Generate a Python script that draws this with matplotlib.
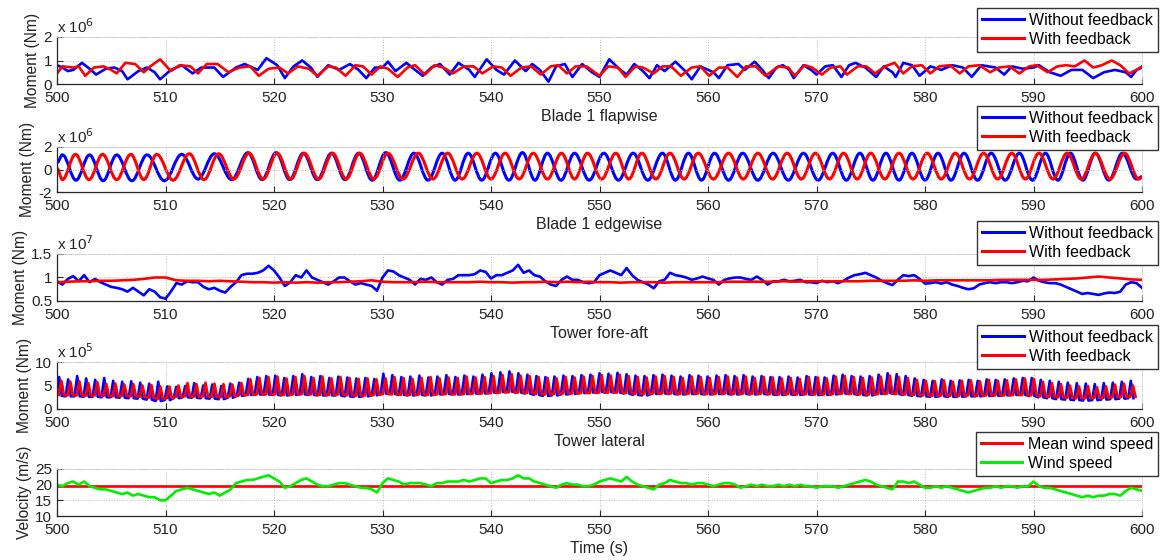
import numpy as np
import matplotlib
matplotlib.use('Agg')
import matplotlib.pyplot as plt
from matplotlib.lines import Line2D
from matplotlib.path import Path
from matplotlib.patches import PathPatch

plt.rcParams['font.family'] = ['Liberation Sans', 'DejaVu Sans']

# ---------------- data ----------------
# Blade 1 flapwise (x 1e6 Nm)
flap_blue_t = [500, 500.5, 501, 501.5, 502.3, 503, 503.6, 504.5, 505.3, 506, 506.5, 507.5, 508.3, 509, 509.5,
               510.5, 511.5, 512.5, 513.3, 514.5, 515.3, 516.5, 517.3, 518.5, 519.3, 520.3, 521.0, 521.8, 522.6,
               523.4, 524.0, 525, 526, 527, 527.8, 528.5, 529.3, 530, 530.5, 531.2, 532.2, 533, 533.7, 534.5,
               535.3, 536.2, 537, 538, 538.5, 539.6, 540.5, 541.2, 542.2, 543.2, 543.8, 544.5, 545.3, 546, 546.8,
               547.5, 548.4, 549.3, 550, 550.9, 551.8, 552.5, 553.2, 554, 554.6, 555.3, 556, 557, 557.9, 558.5,
               559.3, 560.5, 561, 561.8, 562.8, 563.4, 564.3, 565, 565.6, 566.3, 566.9, 567.5, 567.9, 568.8,
               569.5, 570, 570.8, 571.5, 572.3, 573, 573.6, 574.5, 575.5, 576.2, 577, 577.3, 578, 578.8, 579.5,
               580.5, 581.5, 582.5, 583.5, 584.3, 585.2, 586.5, 587.3, 588, 589, 590, 590.5, 591.5, 592.5, 593.5,
               594.5, 595.5, 596.5, 597.5, 598.5, 599, 599.5, 600]
flap_blue_v = [0.8, 0.7, 0.55, 0.6, 0.9, 0.65, 0.4, 0.65, 0.7, 0.55, 0.2, 0.55, 0.7, 0.5, 0.2,
               0.6, 0.8, 0.45, 0.7, 0.7, 0.3, 0.7, 0.85, 0.6, 1.1, 0.8, 0.25, 0.75, 1.0,
               0.7, 0.3, 0.8, 0.6, 0.85, 0.6, 0.25, 0.7, 0.7, 0.95, 0.55, 0.9, 0.6, 0.35, 0.7,
               0.85, 0.4, 0.9, 0.6, 0.3, 1.05, 0.6, 0.4, 1.0, 0.55, 0.85, 0.6, 0.1, 0.75, 0.85,
               0.3, 0.85, 0.5, 0.3, 1.05, 0.65, 0.4, 0.85, 0.55, 0.25, 0.8, 0.55, 0.95, 0.55, 0.2,
               0.75, 0.5, 0.25, 0.8, 0.85, 0.6, 0.95, 0.6, 0.25, 0.7, 0.8, 0.6, 0.25, 0.8,
               0.6, 0.4, 0.75, 0.8, 0.3, 0.8, 0.9, 0.7, 0.3, 0.75, 0.5, 0.3, 0.9, 0.8, 0.35,
               0.75, 0.6, 0.8, 0.7, 0.3, 0.8, 0.7, 0.4, 0.75, 0.65, 0.7, 0.8, 0.5, 0.35, 0.6,
               0.6, 0.25, 0.5, 0.6, 0.5, 0.3, 0.6, 0.7]
flap_red_t = [500, 500.5, 501.5, 502, 502.6, 503.4, 504.3, 505, 505.5, 506.3, 507.2, 508, 508.6, 509.5, 510.5,
              511.3, 512.3, 513, 513.8, 514.8, 515.8, 516.8, 517.8, 518.6, 519.5, 520.5, 521.3, 522.2, 523.2,
              524, 525, 525.7, 526.6, 527.5, 528.2, 529, 529.8, 530.5, 531.4, 532.3, 533, 533.9, 534.8, 535.6,
              536.5, 537.5, 538.4, 539.2, 540.2, 541, 541.8, 542.8, 543.7, 544.6, 545.5, 546.2, 547, 547.8,
              548.8, 550, 550.8, 551.7, 552.4, 553.3, 554, 555, 555.8, 556.6, 557.5, 558.5, 559.3, 560.1, 561,
              561.8, 562.7, 563.5, 564.4, 565.3, 566.5, 567.4, 568, 568.9, 569.6, 570.5, 571.3, 572.2, 572.8,
              573.8, 574.6, 575.4, 576.3, 577.2, 578, 578.8, 579.7, 580.5, 581.3, 582.3, 583.2, 584, 585, 586,
              586.8, 587.8, 588.7, 589.6, 590.3, 591.3, 592.2, 593, 593.8, 594.7, 595.5, 596.3, 597.2, 598,
              598.8, 599.5, 600]
flap_red_v = [0.45, 0.75, 0.7, 0.75, 0.35, 0.7, 0.75, 0.6, 0.45, 0.9, 0.85, 0.5, 0.75, 1.05, 0.55,
              0.8, 0.75, 0.45, 0.85, 0.85, 0.5, 0.7, 0.75, 0.35, 0.65, 0.7, 0.45, 0.75, 0.65,
              0.35, 0.75, 0.7, 0.35, 0.8, 0.75, 0.4, 0.75, 0.65, 0.3, 0.7, 0.8, 0.4, 0.8, 0.7,
              0.45, 0.75, 0.75, 0.45, 0.75, 0.7, 0.35, 0.7, 0.75, 0.4, 0.75, 0.8, 0.45, 0.75,
              0.75, 0.35, 0.75, 0.7, 0.3, 0.75, 0.7, 0.45, 0.75, 0.75, 0.35, 0.7, 0.75, 0.35, 0.7,
              0.7, 0.3, 0.75, 0.75, 0.35, 0.75, 0.7, 0.35, 0.8, 0.7, 0.4, 0.7, 0.75, 0.4,
              0.75, 0.75, 0.45, 0.75, 0.9, 0.45, 0.75, 0.8, 0.45, 0.75, 0.8, 0.45, 0.75, 0.8, 0.5,
              0.7, 0.75, 0.45, 0.75, 0.8, 0.5, 0.75, 0.8, 0.75, 1.0, 0.7, 0.8, 1.0, 0.8,
              0.45, 0.6, 0.75]

# Blade 1 edgewise (x 1e6 Nm): turning points (peaks / troughs)
edge_blue_t = [500, 500.5, 501.75, 503.0, 504.25, 505.5, 506.9, 508.3, 509.9, 511.5, 513.0, 514.5, 516.1,
               517.6, 518.9, 520.2, 521.45, 522.7, 524.0, 525.3, 526.55, 527.8, 529.05, 530.3, 531.6,
               532.9, 534.2, 535.5, 536.7, 537.9, 539.15, 540.4, 541.65, 542.9, 544.05, 545.2, 546.45,
               547.7, 549.05, 550.4, 551.75, 553.1, 554.45, 555.8, 557.0, 558.2, 559.4, 560.6, 561.9,
               563.2, 564.6, 566.0, 567.4, 568.8, 570.15, 571.5, 572.75, 574.0, 575.2, 576.4, 577.6,
               578.8, 580.0, 581.2, 582.4, 583.6, 584.85, 586.1, 587.4, 588.7, 589.9, 591.1, 592.25,
               593.4, 594.55, 595.7, 596.95, 598.2, 599.5, 600]
edge_blue_v = [0.6, 1.3, -0.95, 1.3, -1.0, 1.3, -1.0, 1.3, -1.0, 1.35, -0.85, 1.4, -0.9,
               1.5, -0.9, 1.5, -0.9, 1.45, -0.9, 1.45, -0.9, 1.45, -0.95, 1.5, -0.95,
               1.45, -0.95, 1.45, -0.95, 1.45, -0.95, 1.45, -0.95, 1.5, -0.95, 1.45, -0.95,
               1.45, -0.95, 1.45, -0.95, 1.45, -0.95, 1.45, -0.95, 1.45, -0.95, 1.45, -0.95,
               1.45, -0.95, 1.45, -0.95, 1.45, -0.95, 1.45, -0.95, 1.45, -0.95, 1.45, -0.95,
               1.45, -0.95, 1.45, -0.95, 1.45, -0.95, 1.45, -0.95, 1.45, -0.95, 1.45, -0.95,
               1.45, -0.95, 1.45, -0.95, 1.45, -0.85, -0.65]
edge_red_t = [500, 500.5, 501.7, 502.95, 504.2, 505.5, 506.8, 508.0, 509.2, 510.7, 512.2, 513.55, 514.9,
              516.3, 517.7, 519.0, 520.3, 521.55, 522.8, 524.1, 525.4, 526.65, 527.9, 529.2, 530.5,
              531.9, 533.3, 534.65, 536.0, 537.35, 538.7, 540.0, 541.3, 542.6, 543.9, 545.2, 546.5,
              547.7, 548.9, 550.2, 551.5, 552.7, 553.9, 555.2, 556.5, 557.8, 559.1, 560.5, 561.9,
              563.25, 564.6, 565.95, 567.3, 568.6, 569.9, 571.2, 572.5, 573.75, 575.0, 576.3, 577.6,
              578.9, 580.2, 581.5, 582.8, 584.1, 585.4, 586.7, 588.0, 589.25, 590.5, 591.8, 593.1,
              594.4, 595.7, 597.05, 598.4, 599.7, 600]
edge_red_v = [0.1, -0.9, 1.35, -0.9, 1.35, -0.9, 1.35, -0.9, 1.35, -0.95, 1.4, -0.9, 1.4,
              -0.85, 1.45, -0.85, 1.45, -0.85, 1.45, -0.85, 1.45, -0.85, 1.45, -0.85, 1.45,
              -0.85, 1.45, -0.85, 1.45, -0.85, 1.45, -0.85, 1.45, -0.85, 1.45, -0.85, 1.45,
              -0.85, 1.45, -0.85, 1.45, -0.85, 1.45, -0.85, 1.45, -0.85, 1.45, -0.85, 1.45,
              -0.85, 1.45, -0.85, 1.45, -0.85, 1.45, -0.85, 1.45, -0.85, 1.45, -0.85, 1.45,
              -0.85, 1.45, -0.85, 1.45, -0.85, 1.45, -0.85, 1.45, -0.85, 1.45, -0.85, 1.45,
              -0.85, 1.45, -0.85, 1.45, -0.85, -0.7]

# Tower fore-aft (x 1e7 Nm), every 0.5 s from 500 to 600
fa_blue = [0.92, 0.85, 0.97, 1.03, 0.92, 1.05, 0.9, 0.97, 0.9, 0.85, 0.8, 0.78, 0.75, 0.7, 0.78, 0.7, 0.62, 0.75, 0.7, 0.58,
           0.55, 0.7, 0.88, 0.85, 0.92, 0.9, 0.9, 0.8, 0.75, 0.78, 0.72, 0.68, 0.8, 0.9, 1.05, 1.08, 1.08, 1.1, 1.15, 1.25,
           1.15, 1.0, 0.82, 0.9, 1.05, 1.0, 1.15, 1.0, 0.95, 0.9, 0.85, 0.92, 1.0, 1.0, 0.92, 0.85, 0.88, 0.85, 0.82, 0.72,
           1.0, 1.15, 1.13, 1.05, 1.0, 0.95, 0.85, 0.97, 0.95, 1.0, 0.9, 0.85, 0.95, 0.97, 1.05, 1.05, 1.05, 1.07, 1.15, 1.12,
           0.98, 1.05, 1.05, 1.1, 1.15, 1.27, 1.1, 1.15, 1.05, 1.02, 0.92, 0.85, 0.82, 0.95, 1.02, 0.95, 0.95, 0.9, 0.88, 0.9,
           1.05, 1.1, 1.15, 1.1, 1.05, 1.2, 1.05, 0.95, 0.9, 0.85, 0.77, 0.92, 0.95, 1.1, 1.05, 1.03, 1.0, 0.95, 0.98, 1.02,
           0.98, 0.95, 0.85, 0.95, 0.98, 1.0, 1.0, 0.97, 0.95, 1.02, 0.95, 0.85, 0.92, 0.92, 0.95, 0.92, 0.93, 0.95, 0.9, 0.9,
           0.88, 0.93, 0.9, 0.92, 0.88, 0.93, 1.0, 1.05, 1.07, 1.1, 1.05, 1.0, 0.93, 0.88, 0.84, 0.95, 1.05, 1.03, 1.05, 0.97,
           0.87, 0.88, 0.9, 0.87, 0.9, 0.85, 0.82, 0.78, 0.75, 0.77, 0.85, 0.88, 0.9, 0.88, 0.9, 0.9, 0.88, 0.9, 0.93, 0.92,
           1.0, 0.93, 0.9, 0.88, 0.88, 0.85, 0.8, 0.75, 0.7, 0.65, 0.67, 0.65, 0.63, 0.66, 0.68, 0.67, 0.7, 0.85, 0.9, 0.88,
           0.78]
# every 1 s from 500 to 600
fa_red = [0.9, 0.91, 0.92, 0.92, 0.93, 0.93, 0.94, 0.95, 0.97, 1.0,
          1.0, 0.94, 0.93, 0.93, 0.92, 0.93, 0.92, 0.91, 0.9, 0.9,
          0.89, 0.9, 0.89, 0.9, 0.89, 0.9, 0.9, 0.91, 0.92, 0.94,
          0.91, 0.9, 0.9, 0.9, 0.91, 0.9, 0.9, 0.9, 0.9, 0.91,
          0.9, 0.9, 0.89, 0.9, 0.9, 0.91, 0.9, 0.91, 0.9, 0.91,
          0.9, 0.9, 0.89, 0.9, 0.9, 0.9, 0.89, 0.9, 0.9, 0.9,
          0.9, 0.9, 0.91, 0.91, 0.91, 0.91, 0.91, 0.92, 0.91, 0.92,
          0.92, 0.92, 0.92, 0.92, 0.92, 0.93, 0.93, 0.93, 0.93, 0.94,
          0.93, 0.94, 0.94, 0.94, 0.94, 0.94, 0.94, 0.95, 0.95, 0.95,
          0.95, 0.95, 0.96, 0.97, 0.98, 1.0, 1.02, 1.0, 0.98, 0.96,
          0.95]

# Tower lateral (x 1e5 Nm): per load cycle peak and base values
lat_red_peak = [6.0, 5.8, 5.9, 5.5, 5.7, 5.3, 5.4, 5.2, 5.3, 5.0, 5.1, 4.8,
                4.8, 5.0, 5.5, 5.3, 5.6, 5.4, 5.3, 5.2, 5.5, 6.3, 6.6, 6.8,
                6.9, 6.5, 6.8, 7.0, 6.6, 6.9, 6.5, 6.8, 6.6, 6.4, 6.5, 6.3,
                6.5, 6.8, 6.6, 6.4, 6.6, 6.8, 6.5, 6.7, 6.6, 6.9, 6.7, 6.8,
                7.0, 7.2, 7.4, 7.1, 7.0, 6.8, 6.6, 6.5, 6.8, 6.7, 6.9, 7.0,
                7.2, 7.1, 7.3, 7.0, 6.8, 6.7, 6.9, 7.0, 6.8, 6.6, 6.9, 6.8,
                6.6, 6.8, 6.9, 6.7, 6.9, 6.6, 6.8, 6.7, 6.5, 6.6, 6.4, 6.8,
                6.7, 6.5, 6.9, 7.0, 6.8, 6.6, 6.7, 6.9, 7.1, 6.8, 6.6, 6.2,
                6.0, 5.9, 6.1, 5.8, 6.0, 6.1, 5.9, 6.2, 6.0, 6.1, 6.3, 6.5,
                6.4, 5.8, 5.5, 5.3, 5.0, 4.8, 4.9, 4.6, 4.8, 5.2, 5.4, 5.0]
lat_red_base = [3.0, 2.9, 2.9, 2.8, 2.9, 2.8, 2.7, 2.8, 2.7, 2.6, 2.4, 2.1,
                2.3, 2.6, 2.7, 2.6, 2.7, 2.6, 2.5, 2.7, 2.9, 3.0, 3.1, 3.1,
                3.1, 3.0, 3.1, 3.2, 3.1, 3.0, 3.0, 3.1, 2.9, 2.8, 2.9, 3.0,
                3.2, 3.1, 3.0, 3.0, 3.1, 3.0, 3.1, 3.2, 3.1, 3.2, 3.3, 3.3,
                3.4, 3.5, 3.6, 3.5, 3.4, 3.2, 3.1, 3.2, 3.3, 3.3, 3.4, 3.4,
                3.5, 3.5, 3.5, 3.4, 3.2, 3.2, 3.3, 3.3, 3.3, 3.2, 3.3, 3.3,
                3.2, 3.3, 3.3, 3.2, 3.3, 3.2, 3.3, 3.2, 3.1, 3.2, 3.1, 3.2,
                3.1, 3.1, 3.2, 3.3, 3.2, 3.1, 3.1, 3.2, 3.3, 3.2, 3.1, 3.0,
                2.9, 2.8, 2.9, 2.8, 2.8, 2.9, 2.8, 2.9, 2.9, 2.9, 3.0, 3.0,
                2.9, 2.7, 2.6, 2.5, 2.4, 2.3, 2.3, 2.4, 2.4, 2.5, 2.6, 2.6]
lat_blue_peak = [6.8, 6.3, 7.0, 6.5, 6.2, 6.6, 6.0, 5.8, 5.9, 5.6, 5.4, 5.8,
                 4.8, 4.7, 4.9, 5.5, 5.0, 5.2, 4.9, 5.4, 5.6, 6.4, 6.8, 7.0,
                 7.1, 6.6, 7.0, 7.4, 6.8, 7.0, 6.6, 6.9, 6.7, 6.5, 6.6, 6.4,
                 7.5, 7.2, 6.8, 6.9, 7.1, 6.7, 6.9, 7.2, 6.8, 7.1, 6.9, 7.3,
                 7.6, 7.8, 8.0, 7.6, 7.3, 7.0, 6.8, 6.9, 7.1, 7.0, 7.2, 7.3,
                 7.6, 7.5, 7.7, 7.4, 7.1, 7.0, 7.2, 7.3, 7.1, 6.9, 7.2, 7.1,
                 6.9, 7.1, 7.2, 7.0, 7.2, 6.9, 7.0, 6.8, 6.8, 6.9, 6.7, 7.0,
                 6.8, 6.7, 7.1, 7.3, 7.0, 6.9, 7.0, 7.3, 7.6, 7.4, 7.0, 6.5,
                 6.2, 6.0, 6.3, 6.0, 6.1, 6.2, 6.0, 6.3, 6.2, 6.3, 6.5, 6.6,
                 6.6, 6.2, 6.0, 5.8, 5.6, 5.5, 5.4, 5.3, 5.5, 5.6, 5.8, 6.0]
lat_blue_base = [2.8, 2.7, 2.7, 2.6, 2.6, 2.5, 2.5, 2.4, 2.3, 2.2, 2.0, 1.7,
                 1.9, 2.3, 2.5, 2.4, 2.3, 2.2, 2.1, 2.4, 2.8, 3.0, 3.1, 3.1,
                 3.0, 2.9, 3.0, 3.1, 3.0, 2.9, 2.9, 2.9, 2.7, 2.6, 2.7, 2.9,
                 3.3, 3.2, 3.0, 2.9, 3.0, 2.9, 3.1, 3.2, 3.1, 3.2, 3.3, 3.3,
                 3.5, 3.6, 3.7, 3.5, 3.3, 3.0, 2.8, 2.9, 3.1, 3.2, 3.4, 3.5,
                 3.6, 3.6, 3.5, 3.3, 3.0, 2.9, 3.2, 3.3, 3.2, 3.1, 3.2, 3.2,
                 3.1, 3.2, 3.2, 3.1, 3.2, 3.1, 3.2, 3.1, 3.0, 3.1, 3.0, 3.1,
                 3.0, 3.0, 3.1, 3.3, 3.2, 3.0, 2.9, 3.2, 3.4, 3.2, 3.0, 2.8,
                 2.7, 2.6, 2.7, 2.6, 2.6, 2.7, 2.7, 2.8, 2.8, 2.9, 3.0, 3.0,
                 2.8, 2.5, 2.3, 2.1, 2.0, 1.9, 1.8, 1.9, 2.0, 2.1, 2.2, 2.3]

# Wind (m/s), every 0.5 s from 500 to 600
wind = [20.0, 19.5, 20.5, 21.0, 20.0, 21.0, 19.5, 19.0, 18.5, 18.5, 18.0, 17.5, 17.0, 17.5, 16.5, 17.0, 16.5, 16.0, 16.0, 15.0,
        15.0, 16.5, 18.0, 18.5, 19.0, 18.5, 18.0, 17.5, 17.0, 17.5, 16.5, 17.5, 18.5, 20.5, 21.0, 21.5, 21.5, 22.0, 22.5, 23.0,
        22.0, 21.0, 19.0, 19.5, 20.5, 21.5, 22.0, 21.0, 20.0, 19.5, 19.5, 20.0, 20.5, 20.5, 20.0, 19.5, 19.0, 19.0, 18.5, 17.5,
        20.5, 22.0, 21.5, 21.0, 20.0, 20.5, 20.5, 20.5, 20.0, 19.5, 20.5, 20.5, 21.0, 21.0, 21.0, 21.5, 21.0, 21.5, 22.0, 22.0,
        20.5, 21.0, 21.5, 21.5, 22.0, 23.0, 22.0, 22.0, 21.0, 20.5, 20.0, 19.5, 19.0, 20.0, 20.5, 20.0, 20.0, 19.5, 19.5, 20.0,
        21.0, 21.5, 22.0, 21.5, 21.0, 22.5, 21.0, 20.0, 19.5, 19.0, 18.5, 20.0, 20.5, 21.5, 21.0, 20.5, 20.5, 20.0, 20.5, 20.5,
        20.0, 19.5, 20.0, 20.5, 20.5, 20.0, 19.0, 19.5, 20.0, 19.5, 20.0, 19.5, 19.5, 20.0, 19.5, 20.0, 19.5, 20.0, 19.5, 19.5,
        19.0, 19.5, 19.5, 19.5, 19.0, 19.5, 20.0, 20.5, 21.0, 21.5, 21.0, 20.0, 19.5, 19.0, 18.5, 21.0, 21.0, 20.5, 21.0, 20.0,
        19.0, 19.0, 19.5, 19.0, 19.5, 19.0, 18.5, 18.0, 17.5, 18.0, 18.5, 19.0, 19.0, 19.5, 19.0, 19.5, 19.5, 19.0, 19.5, 19.5,
        21.0, 19.5, 19.0, 19.0, 18.5, 18.0, 17.5, 17.0, 16.5, 16.0, 16.5, 16.0, 16.5, 16.5, 17.0, 17.0, 16.5, 18.0, 19.0, 18.5,
        18.0]
mean_wind = 19.6

# ---------------- figure ----------------
W, H = 1166, 560
fig = plt.figure(figsize=(W / 100, H / 100), dpi=100)
BLUE, RED, GREEN = '#0000ff', '#ff0000', '#00ee00'
LW = 1.9
AXC = '#262626'
TXT = '#222222'


def make_axes(top, bottom):
    return fig.add_axes([57 / W, 1 - bottom / H, (1142 - 57) / W, (bottom - top) / H])


def style(ax, ylim, yticks, ylabel, xlabel, expo=None):
    ax.set_xlim(500, 600)
    ax.set_ylim(*ylim)
    ax.set_xticks(np.arange(500, 601, 10))
    ax.set_yticks(yticks)
    ax.set_yticklabels([('%g' % v) for v in yticks])
    ax.tick_params(direction='in', length=4, width=0.8, labelsize=11, colors=AXC,
                   labelcolor=TXT, top=False, right=False)
    ax.tick_params(axis='x', pad=5)
    ax.tick_params(axis='y', pad=3.5)
    ax.grid(True, linestyle=':', color='#b8b8b8', linewidth=0.7)
    for s in ['left', 'bottom']:
        ax.spines[s].set_color(AXC)
        ax.spines[s].set_linewidth(0.9)
    for s in ['top', 'right']:
        ax.spines[s].set_color('#c8c8c8')
        ax.spines[s].set_linewidth(0.6)
        ax.spines[s].set_linestyle(':')
    ax.set_ylabel(ylabel, fontsize=11.2, color=TXT, labelpad=2.5)
    ax.set_xlabel(xlabel, fontsize=11.5, color=TXT, labelpad=3)
    if expo is not None:
        ax.text(0.0, 1.03, r'x 10$^{%d}$' % expo, transform=ax.transAxes, ha='left', va='bottom',
                fontsize=11, color=TXT)


def legend(ax, handles, labels, top):
    ax.legend(handles, labels, loc='upper right', bbox_to_anchor=(1158 / W, 1 - top / H),
              bbox_transform=fig.transFigure, fontsize=11.5, frameon=True, fancybox=False,
              edgecolor='#333333', framealpha=1, borderaxespad=0, handlelength=2.6,
              handletextpad=0.35, labelspacing=0.25, borderpad=0.3)


def smooth_wave(ax, ts, vs, color, lw):
    # draw the wave through its turning points with horizontal tangents at each one
    verts = [(ts[0], vs[0])]
    codes = [Path.MOVETO]
    for i in range(1, len(ts)):
        d = ts[i] - ts[i - 1]
        verts += [(ts[i - 1] + 0.3642 * d, vs[i - 1]), (ts[i] - 0.3642 * d, vs[i]), (ts[i], vs[i])]
        codes += [Path.CURVE4] * 3
    ax.add_patch(PathPatch(Path(verts, codes), facecolor='none', edgecolor=color, lw=lw,
                           transform=ax.transData, capstyle='round', joinstyle='round'))


def spikes(t0, period, base, peak):
    xs, ys = [], []
    for k in range(len(peak)):
        tk = t0 + period * k
        xs += [tk - 0.24, tk, tk + 0.24]
        ys += [base[k], peak[k], base[k]]
    return xs, ys


t_half = np.linspace(500, 600, 201)
t_one = np.linspace(500, 600, 101)

# Panel 1
ax1 = make_axes(37, 84)
ax1.plot(flap_blue_t, flap_blue_v, color=BLUE, lw=LW)
ax1.plot(flap_red_t, flap_red_v, color=RED, lw=LW)
style(ax1, (0, 2), [0, 1, 2], 'Moment (Nm)', 'Blade 1 flapwise', 6)

# Panel 2
ax2 = make_axes(147, 192)
smooth_wave(ax2, edge_blue_t, edge_blue_v, BLUE, 2.2)
smooth_wave(ax2, edge_red_t, edge_red_v, RED, 2.2)
style(ax2, (-2, 2), [-2, 0, 2], 'Moment (Nm)', 'Blade 1 edgewise', 6)

# Panel 3
ax3 = make_axes(254, 301)
ax3.plot(t_half, fa_blue, color=BLUE, lw=LW)
ax3.plot(t_one, fa_red, color=RED, lw=LW)
style(ax3, (0.5, 1.5), [0.5, 1, 1.5], 'Moment (Nm)', 'Tower fore-aft', 7)

# Panel 4
ax4 = make_axes(362, 409)
bx, by = spikes(500.2, 0.83, lat_blue_base, lat_blue_peak)
rx, ry = spikes(500.4, 0.83, lat_red_base, lat_red_peak)
ax4.plot(bx, by, color=BLUE, lw=LW)
ax4.plot(rx, ry, color=RED, lw=LW)
style(ax4, (0, 10), [0, 5, 10], 'Moment (Nm)', 'Tower lateral', 5)

# Panel 5
ax5 = make_axes(469, 516)
ax5.plot([500, 600], [mean_wind, mean_wind], color=RED, lw=LW)
ax5.plot(t_half, wind, color=GREEN, lw=LW)
style(ax5, (10, 25), [10, 15, 20, 25], 'Velocity (m/s)', 'Time (s)')

h_bl = Line2D([], [], color=BLUE, lw=2.2)
h_rd = Line2D([], [], color=RED, lw=2.2)
h_gr = Line2D([], [], color=GREEN, lw=2.2)
fb = ['Without feedback', 'With feedback']
legend(ax1, [h_bl, h_rd], fb, 8)
legend(ax2, [h_bl, h_rd], fb, 106)
legend(ax3, [h_bl, h_rd], fb, 221)
legend(ax4, [h_bl, h_rd], fb, 325)
legend(ax5, [h_rd, h_gr], ['Mean wind speed', 'Wind speed'], 432)

fig.savefig('out.png', dpi=100)
